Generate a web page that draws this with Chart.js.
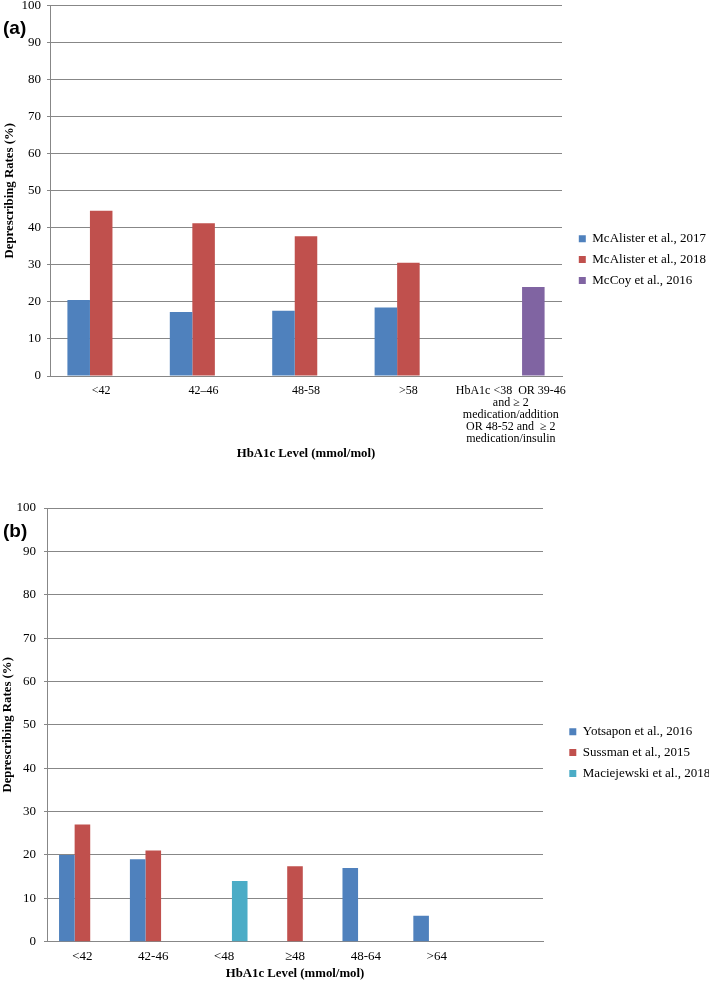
<!DOCTYPE html>
<html>
<head>
<meta charset="utf-8">
<title>Deprescribing rates by HbA1c level</title>
<script src="https://cdn.jsdelivr.net/npm/chart.js@4.4.1/dist/chart.umd.min.js"></script>
<style>
    body { margin: 0; width: 709px; height: 983px; position: relative; overflow: hidden; background: #fff; }
    canvas { position: absolute; left: 0; }
    #chart-a { top: -7px; }
    #chart-b { top: 480px; }
    .panel-tag { position: absolute; left: 3px; z-index: 2; font: bold 19px "Liberation Sans", Arial, sans-serif; line-height: 20px; color: #000; }
</style>
</head>
<body>
<canvas id="chart-a" width="709" height="477"></canvas>
<canvas id="chart-b" width="709" height="503"></canvas>
<div class="panel-tag" style="top: 18px;">(a)</div>
<div class="panel-tag" style="top: 521px;">(b)</div>
<script>
// panel (a)
const labelsA = ['<42', '42–46', '48-58', '>58',
    ['HbA1c <38  OR 39-46', 'and ≥ 2', 'medication/addition', 'OR 48-52 and  ≥ 2', 'medication/insulin']];
const mcAlister2017 = [20.5, 17.3, 17.6, 18.5, null];
const mcAlister2018 = [44.6, 41.2, 37.7, 30.6, null];
const mcCoy2016 = [null, null, null, null, 24.0];

// panel (b)
const labelsB = ['<42', '42-46', '<48', '≥48', '48-64', '>64', ''];
const yotsapon2016 = [20, 19, null, null, 17, 6, null];
const sussman2015 = [27, 21, null, 17.4, null, null, null];
const maciejewski2018 = [null, null, 14, null, null, null, null];

const yTicks = [0, 10, 20, 30, 40, 50, 60, 70, 80, 90, 100];

const BLUE = '#4F81BD';
const RED = '#C0504D';
const PURPLE = '#8064A2';
const CYAN = '#4BACC6';
const GRID = '#878787';

Chart.defaults.font.family = '"Liberation Serif", "Times New Roman", serif';
Chart.defaults.color = '#111';

/**
 * Moves the legend to a fixed spot, the way the Excel legend sits beside the plot.
 */
function placeLegend(x, y) {
    return {
        id: 'placeLegend',
        afterLayout(chart) {
            const legend = chart.legend;
            legend.left = x;
            legend.right = chart.width;
            legend.width = chart.width - x;
            legend.top = y;
            legend.bottom = y + legend.height;
        }
    };
}

function bar(label, data, color) {
    return {
        label, data,
        backgroundColor: color,
        borderWidth: 0,
        categoryPercentage: 0.66,
        barPercentage: 1.0
    };
}

function buildOptions(cfg) {
    return {
        responsive: false,
        animation: false,
        layout: { padding: cfg.padding },
        plugins: {
            legend: {
                position: 'right',
                align: 'start',
                maxWidth: 100,
                labels: { boxWidth: 7, boxHeight: 7, padding: 7.8, color: '#000', font: { size: 13 } }
            },
            tooltip: { enabled: false }
        },
        scales: {
            x: {
                grid: { display: false, drawTicks: false },
                border: { color: GRID, width: 1 },
                ticks: {
                    color: '#000', autoSkip: false, maxRotation: 0,
                    padding: cfg.xTickPad,
                    font: { size: cfg.xTickSize, lineHeight: 1 }
                },
                title: {
                    display: true, text: 'HbA1c Level (mmol/mol)', color: '#000',
                    font: { size: 12.8, weight: 'bold', lineHeight: 1.2 },
                    padding: { top: 0, bottom: cfg.xTitlePad }
                },
                afterFit: scale => { scale.height = cfg.xHeight; }
            },
            y: {
                min: 0, max: 100,
                afterBuildTicks: scale => { scale.ticks = yTicks.map(v => ({ value: v })); },
                grid: { color: GRID, tickLength: 3 },
                border: { color: GRID, width: 1 },
                ticks: { color: '#000', padding: cfg.yTickPad, font: { size: 13, lineHeight: 1 } },
                title: {
                    display: true, text: 'Deprescribing Rates (%)', color: '#000',
                    font: { size: 12.8, weight: 'bold', lineHeight: 1.2 },
                    padding: { top: cfg.yTitlePad, bottom: 0 }
                },
                afterFit: scale => { scale.width = cfg.yWidth; }
            }
        }
    };
}

document.addEventListener('DOMContentLoaded', function() {
    new Chart(document.getElementById('chart-a'), {
        type: 'bar',
        data: {
            labels: labelsA,
            datasets: [
                bar('McAlister et al., 2017', mcAlister2017, BLUE),
                bar('McAlister et al., 2018', mcAlister2018, RED),
                bar('McCoy et al., 2016', mcCoy2016, PURPLE)
            ]
        },
        options: buildOptions({
            padding: { top: 12, right: 47, bottom: 0, left: 0 },
            xHeight: 94, xTickPad: 9, xTickSize: 12, xTitlePad: 8.3,
            yWidth: 50, yTickPad: 6, yTitlePad: 2.3
        }),
        plugins: [placeLegend(571, 231.5)]
    });

    new Chart(document.getElementById('chart-b'), {
        type: 'bar',
        data: {
            labels: labelsB,
            datasets: [
                bar('Yotsapon et al., 2016', yotsapon2016, BLUE),
                bar('Sussman et al., 2015', sussman2015, RED),
                bar('Maciejewski et al., 2018', maciejewski2018, CYAN)
            ]
        },
        options: buildOptions({
            padding: { top: 28, right: 66, bottom: 0, left: 0 },
            xHeight: 41.3, xTickPad: 8.5, xTickSize: 13, xTitlePad: 1.3,
            yWidth: 47, yTickPad: 8, yTitlePad: 0.5
        }),
        plugins: [placeLegend(561.5, 237.5)]
    });
});
</script>
</body>
</html>
